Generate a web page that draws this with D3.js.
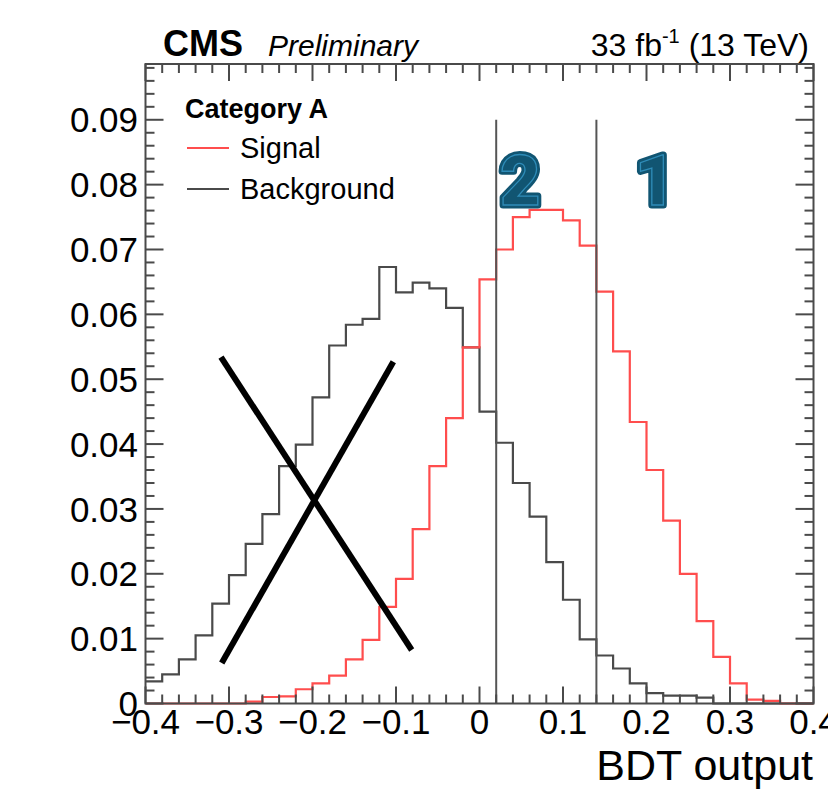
<!DOCTYPE html>
<html>
<head>
<meta charset="utf-8">
<script src="https://cdn.jsdelivr.net/npm/d3@7"></script>
<style>
  body { margin: 0; background: #fff; }
  svg { display: block; font-family: "Liberation Sans", Arial, sans-serif; }
</style>
</head>
<body>
<script>
"use strict";

// bin edges: 40 bins of 0.02 from -0.4 to 0.4
var binLow = -0.4, binWidth = 0.02;

var signal = [0, 0, 0, 0, 0, 0, 0.0003, 0.0010, 0.0011, 0.0022,
              0.0031, 0.0043, 0.0068, 0.0098, 0.0149, 0.0192, 0.0269, 0.0366, 0.0440, 0.0549,
              0.0654, 0.0700, 0.0750, 0.0761, 0.0761, 0.0745, 0.0706, 0.0635, 0.0543, 0.0434,
              0.0360, 0.0282, 0.0200, 0.0127, 0.0072, 0.0031, 0.0006, 0.0004, 0, 0];

var background = [0.0034, 0.0045, 0.0068, 0.0105, 0.0154, 0.0198, 0.0246, 0.0292, 0.0366, 0.0399,
                  0.0472, 0.0552, 0.0584, 0.0593, 0.0673, 0.0634, 0.0649, 0.0640, 0.0610, 0.0549,
                  0.0450, 0.0402, 0.0340, 0.0288, 0.0218, 0.0160, 0.0099, 0.0074, 0.0054, 0.0031,
                  0.0016, 0.0012, 0.0012, 0.0009, 0, 0, 0, 0, 0, 0];

var xTicks = [-0.4, -0.3, -0.2, -0.1, 0, 0.1, 0.2, 0.3, 0.4];
var yTicks = [0, 0.01, 0.02, 0.03, 0.04, 0.05, 0.06, 0.07, 0.08, 0.09];

var cuts = [0.02, 0.14];
var cutTop = 0.09;
var regionLabels = [{text: "2", x: 0.0487}, {text: "1", x: 0.2102}];

// hand-drawn cross over the background region
var cross = [[[-0.3096, 0.0534], [-0.0812, 0.00825]],
             [[-0.3087, 0.00625], [-0.1032, 0.0527]]];

var width = 828, height = 793;

var svg = d3.select("body").append("svg")
    .attr("width", width)
    .attr("height", height);

var x = d3.scaleLinear().domain([-0.4, 0.4]).range([145.5, 813.5]);
var y = d3.scaleLinear().domain([0, 0.0986]).range([703.5, 64]);

function stepPoints(vals){
  var pts = [];
  vals.forEach(function(v, i){
    var lo = binLow + i * binWidth;
    pts.push([lo, v]);
    pts.push([lo + binWidth, v]);
  });
  return pts;
}

var line = d3.line()
    .x(function(d){ return x(d[0]); })
    .y(function(d){ return y(d[1]); });

// histograms
svg.append("path")
    .datum(stepPoints(background))
    .attr("d", line)
    .attr("fill", "none")
    .attr("stroke", "#4a4a4a")
    .attr("stroke-width", 2.2);

svg.append("path")
    .datum(stepPoints(signal))
    .attr("d", line)
    .attr("fill", "none")
    .attr("stroke", "#ff4d4d")
    .attr("stroke-width", 2.2);

// cut lines
svg.selectAll(".cut")
    .data(cuts)
    .enter().append("line")
    .attr("class", "cut")
    .attr("x1", function(d){ return x(d); })
    .attr("x2", function(d){ return x(d); })
    .attr("y1", y(0))
    .attr("y2", y(cutTop))
    .attr("stroke", "#555")
    .attr("stroke-width", 2);

// frame + ticks (drawn over the histograms, like ROOT)
var frame = svg.append("g");
frame.append("rect")
    .attr("x", x(-0.4)).attr("y", y.range()[1])
    .attr("width", x(0.4) - x(-0.4))
    .attr("height", y(0) - y.range()[1])
    .attr("fill", "none")
    .attr("stroke", "#4a4a4a")
    .attr("stroke-width", 2);

var xMinor = d3.range(-0.4, 0.4001, 0.02);
var yMinor = d3.range(0, 0.0986, 0.002);

xMinor.forEach(function(v){
  var major = Math.abs(Math.round(v * 10) - v * 10) < 1e-6;
  var len = major ? 17 : 9;
  frame.append("line")
      .attr("x1", x(v)).attr("x2", x(v))
      .attr("y1", y(0)).attr("y2", y(0) - len)
      .attr("stroke", "#4a4a4a").attr("stroke-width", 2);
  frame.append("line")
      .attr("x1", x(v)).attr("x2", x(v))
      .attr("y1", y.range()[1]).attr("y2", y.range()[1] + len)
      .attr("stroke", "#4a4a4a").attr("stroke-width", 2);
});

yMinor.forEach(function(v){
  var major = Math.abs(Math.round(v * 100) - v * 100) < 1e-6;
  var len = major ? 18 : 9;
  frame.append("line")
      .attr("x1", x(-0.4)).attr("x2", x(-0.4) + len)
      .attr("y1", y(v)).attr("y2", y(v))
      .attr("stroke", "#4a4a4a").attr("stroke-width", 2);
  frame.append("line")
      .attr("x1", x(0.4)).attr("x2", x(0.4) - len)
      .attr("y1", y(v)).attr("y2", y(v))
      .attr("stroke", "#4a4a4a").attr("stroke-width", 2);
});

// tick labels
svg.selectAll(".xlab")
    .data(xTicks)
    .enter().append("text")
    .attr("class", "xlab")
    .attr("x", function(d){ return x(d); })
    .attr("y", 734)
    .attr("text-anchor", "middle")
    .attr("font-size", 35)
    .text(function(d){ return d === 0 ? "0" : d3.format(".1f")(d).replace("-", "\u2212"); });

svg.selectAll(".ylab")
    .data(yTicks)
    .enter().append("text")
    .attr("class", "ylab")
    .attr("x", 138)
    .attr("y", function(d){ return y(d); })
    .attr("dy", "0.36em")
    .attr("text-anchor", "end")
    .attr("font-size", 35)
    .text(function(d){ return d === 0 ? "0" : d3.format(".2f")(d); });

svg.append("text")
    .attr("x", 813).attr("y", 780)
    .attr("text-anchor", "end")
    .attr("font-size", 43)
    .text("BDT output");

// header
svg.append("text")
    .attr("x", 163).attr("y", 56)
    .attr("font-size", 36).attr("font-weight", "bold")
    .text("CMS");
svg.append("text")
    .attr("x", 268).attr("y", 56)
    .attr("font-size", 30).attr("font-style", "italic")
    .text("Preliminary");
var lumi = svg.append("text")
    .attr("x", 809).attr("y", 56)
    .attr("text-anchor", "end")
    .attr("font-size", 32);
lumi.append("tspan").text("33 fb");
lumi.append("tspan").attr("dy", -13).attr("font-size", 20).text("-1");
lumi.append("tspan").attr("dy", 13).text(" (13 TeV)");

// legend
var legend = svg.append("g");
legend.append("text")
    .attr("x", 185).attr("y", 118)
    .attr("font-size", 27).attr("font-weight", "bold")
    .text("Category A");
var entries = [{name: "Signal", color: "#ff4d4d", y: 148}, {name: "Background", color: "#4a4a4a", y: 189}];
entries.forEach(function(e){
  legend.append("line")
      .attr("x1", 187).attr("x2", 229)
      .attr("y1", e.y).attr("y2", e.y)
      .attr("stroke", e.color).attr("stroke-width", 2);
  legend.append("text")
      .attr("x", 240).attr("y", e.y + 10)
      .attr("font-size", 29)
      .text(e.name);
});

// region numbers
regionLabels.forEach(function(r){
  svg.append("text")
      .attr("x", x(r.x)).attr("y", 205)
      .attr("text-anchor", "middle")
      .attr("font-family", "Roboto")
      .attr("font-weight", 900)
      .attr("font-size", 70)
      .attr("fill", "#115572")
      .attr("stroke", "#115572")
      .attr("stroke-width", 7)
      .attr("stroke-linejoin", "round")
      .text(r.text);
  svg.append("text")
      .attr("x", x(r.x)).attr("y", 205)
      .attr("text-anchor", "middle")
      .attr("font-family", "Roboto")
      .attr("font-weight", 900)
      .attr("font-size", 70)
      .attr("fill", "#115572")
      .attr("stroke", "#2f8cb8")
      .attr("stroke-width", 1.3)
      .text(r.text);
});

// cross
svg.selectAll(".cross")
    .data(cross)
    .enter().append("line")
    .attr("class", "cross")
    .attr("x1", function(d){ return x(d[0][0]); })
    .attr("y1", function(d){ return y(d[0][1]); })
    .attr("x2", function(d){ return x(d[1][0]); })
    .attr("y2", function(d){ return y(d[1][1]); })
    .attr("stroke", "#000")
    .attr("stroke-width", 6);
</script>
</body>
</html>
